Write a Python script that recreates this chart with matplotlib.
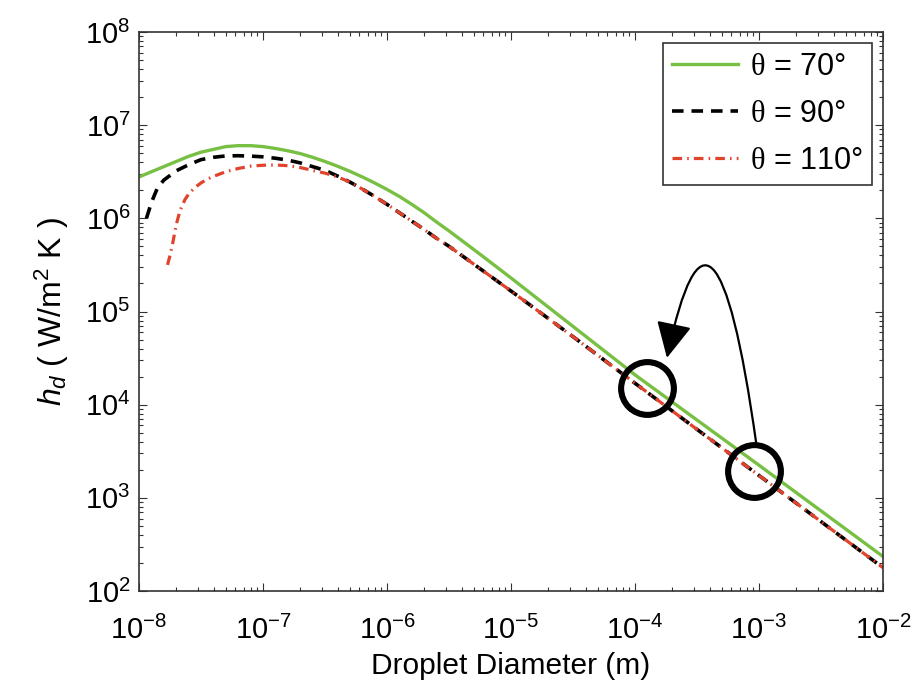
import numpy as np
import matplotlib
matplotlib.use("Agg")
import matplotlib.pyplot as plt

plt.rcParams['font.family'] = ['Liberation Sans', 'DejaVu Sans']
plt.rcParams['mathtext.fontset'] = 'custom'
plt.rcParams['mathtext.rm'] = 'Liberation Sans'
plt.rcParams['mathtext.it'] = 'Liberation Sans:italic'
plt.rcParams['mathtext.sf'] = 'Liberation Serif'
plt.rcParams['mathtext.default'] = 'regular'

# droplet diameter (log10 m) and heat transfer coefficient (log10 W/m^2K)
d_70 = [-8.0, -7.9, -7.8, -7.7, -7.6, -7.5, -7.4, -7.3, -7.2, -7.1, -7.0,
        -6.9, -6.8, -6.7, -6.6, -6.5, -6.4, -6.3, -6.2, -6.1, -6.0, -5.9,
        -5.8, -5.7, -5.6, -5.5, -5.25, -5.0, -4.5, -4.0, -3.0, -2.0]
h_70 = [6.444, 6.50, 6.555, 6.61, 6.665, 6.71, 6.74, 6.77, 6.78, 6.78, 6.77,
        6.75, 6.725, 6.695, 6.655, 6.61, 6.56, 6.505, 6.445, 6.38, 6.31, 6.235,
        6.15, 6.06, 5.96, 5.865, 5.615, 5.36, 4.84, 4.32, 3.35, 2.37]

d_90 = [-7.94, -7.9, -7.85, -7.8, -7.7, -7.6, -7.5, -7.4, -7.3, -7.2, -7.1,
        -7.0, -6.9, -6.8, -6.7, -6.6, -6.5, -6.4, -6.3, -6.2, -6.1, -6.0,
        -5.9, -5.8, -5.7, -5.6, -5.5, -5.25, -5.0, -4.5, -4.0, -3.0, -2.0]
h_90 = [6.00, 6.17, 6.33, 6.41, 6.51, 6.575, 6.63, 6.655, 6.67, 6.672, 6.668,
        6.66, 6.645, 6.625, 6.595, 6.555, 6.515, 6.455, 6.39, 6.315, 6.235, 6.15,
        6.06, 5.97, 5.88, 5.785, 5.70, 5.46, 5.22, 4.73, 4.23, 3.24, 2.25]

d_110 = [-7.77, -7.75, -7.73, -7.7, -7.67, -7.63, -7.6, -7.55, -7.5, -7.45,
         -7.4, -7.3, -7.2, -7.1, -7.0, -6.9, -6.8, -6.7, -6.6, -6.5, -6.4,
         -6.3, -6.2, -6.1, -6.0, -5.9, -5.8, -5.7, -5.6, -5.5, -5.25, -5.0,
         -4.5, -4.0, -3.0, -2.0]
h_110 = [5.50, 5.60, 5.72, 5.93, 6.08, 6.20, 6.26, 6.33, 6.38, 6.42,
         6.45, 6.50, 6.535, 6.56, 6.57, 6.573, 6.565, 6.545, 6.515, 6.485, 6.445,
         6.39, 6.315, 6.235, 6.15, 6.06, 5.97, 5.88, 5.785, 5.70, 5.46, 5.22,
         4.73, 4.23, 3.24, 2.25]

labels = [r'$\mathsf{\theta}$ = 70°', r'$\mathsf{\theta}$ = 90°',
          r'$\mathsf{\theta}$ = 110°']

# highlighted points (diameter m, h) and arrow ends
circle_d = [1.25e-4, 9.1e-4]
circle_h = [1.5e4, 1.95e3]
arrow_from = (9.46e-4, 3.99e3)
arrow_to = (1.81e-4, 3.18e4)

fig = plt.figure(figsize=(9.19, 6.84), dpi=100)
ax = fig.add_axes([139/919, 1 - 591/684, 744/919, 559/684])

ax.plot(10**np.array(d_70), 10**np.array(h_70), color='#78c043', lw=2.4,
        label=labels[0])
ax.plot(10**np.array(d_90), 10**np.array(h_90), color='black', lw=2.6,
        dashes=(3.2, 2.2), label=labels[1])
ax.plot(10**np.array(d_110), 10**np.array(h_110), color='#e0442c', lw=2.3,
        dashes=(3.0, 1.6, 0.5, 1.6), label=labels[2])

ax.plot(circle_d, circle_h, 'o', ms=38, mfc='none', mec='black', mew=4.4)
ax.annotate('', xy=arrow_to, xytext=arrow_from,
            arrowprops=dict(arrowstyle='-|>,head_length=1.0,head_width=0.5',
                            connectionstyle='angle3,angleA=98,angleB=78',
                            color='black', lw=1.6, mutation_scale=22,
                            shrinkA=0, shrinkB=0))

ax.set_xscale('log')
ax.set_yscale('log')
ax.set_xlim(1e-8, 1e-2)
ax.set_ylim(1e2, 1e8)
ax.set_xticks([10.0**k for k in range(-8, -1)])
ax.set_yticks([10.0**k for k in range(2, 9)])

ax.tick_params(which='both', direction='in', top=True, right=True,
               labelsize=21, width=0.8, colors='#333333', labelcolor='black')
ax.tick_params(which='major', length=6)
ax.tick_params(which='minor', length=3)
ax.tick_params(axis='x', pad=18)
ax.tick_params(axis='y', pad=6)
for s in ax.spines.values():
    s.set_linewidth(1.2)
    s.set_color('#333333')

ax.set_xlabel('Droplet Diameter (m)', fontsize=21.5, labelpad=5)
ax.set_ylabel(r'$\mathit{h_d}$ ( W/m$^2$ K )', fontsize=23, labelpad=10)

leg = ax.legend(loc='upper right', fontsize=22, handlelength=2.15,
                handletextpad=0.4, labelspacing=0.55, borderpad=0.3,
                fancybox=False, framealpha=1, borderaxespad=0.36)
leg.get_frame().set_edgecolor('#333333')
leg.get_frame().set_linewidth(1.2)

fig.savefig('out.png', dpi=100)
